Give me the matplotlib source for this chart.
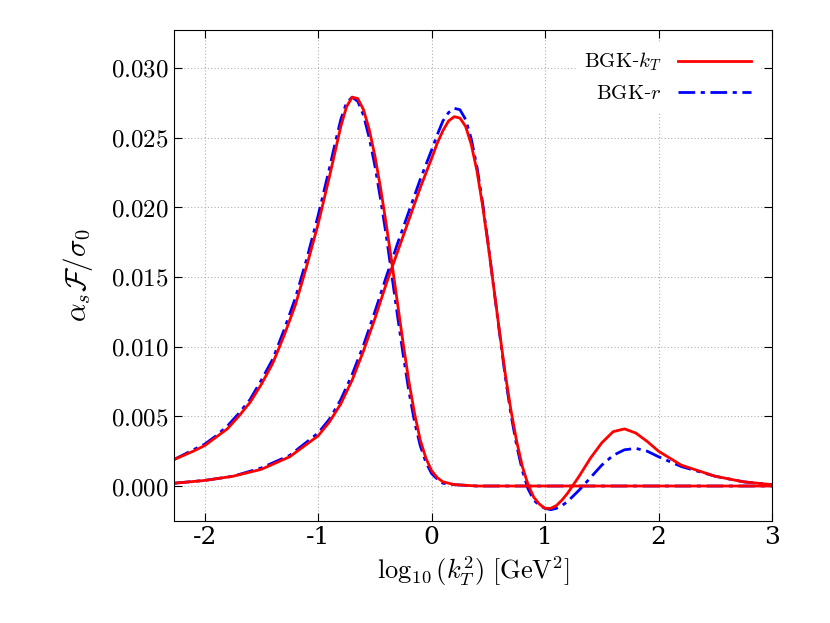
import matplotlib
matplotlib.use("Agg")
import matplotlib.pyplot as plt
from matplotlib.ticker import FuncFormatter
from matplotlib.lines import Line2D

plt.rcParams["mathtext.fontset"] = "cm"
plt.rcParams["font.family"] = "serif"
plt.rcParams["font.serif"] = ["DejaVu Serif"]

xa = [-2.27,-2.1,-2.0,-1.9,-1.8,-1.7,-1.6,-1.5,-1.4,-1.3,-1.2,-1.1,-1.0,-0.95,-0.9,-0.85,-0.8,-0.75,-0.7,-0.65,-0.6,-0.55,-0.5,-0.45,-0.4,-0.35,-0.3,-0.25,-0.2,-0.15,-0.1,-0.05,0.0,0.05,0.1,0.2,0.4,1.0,2.0,3.0]
ya_red = [0.0019,0.0025,0.0029,0.0035,0.0041,0.0050,0.0060,0.0073,0.0088,0.0108,0.0130,0.0158,0.0188,0.0205,0.0222,0.0240,0.0258,0.0272,0.0279,0.0278,0.0270,0.0256,0.0237,0.0214,0.0188,0.0160,0.0131,0.0102,0.0075,0.0052,0.0033,0.0020,0.0011,0.0006,0.0003,0.0001,0,0,0,0]
ya_blue = [0.0019,0.0026,0.0030,0.0036,0.0043,0.0052,0.0062,0.0076,0.0091,0.0112,0.0135,0.0163,0.0194,0.0211,0.0228,0.0246,0.0263,0.0275,0.0279,0.0276,0.0266,0.0250,0.0230,0.0206,0.0180,0.0151,0.0122,0.0094,0.0068,0.0046,0.0029,0.0017,0.0009,0.0005,0.0002,0.0001,0,0,0,0]

xb = [-2.27,-2.0,-1.75,-1.5,-1.25,-1.0,-0.9,-0.8,-0.7,-0.6,-0.5,-0.4,-0.3,-0.2,-0.1,0.0,0.05,0.1,0.15,0.2,0.25,0.3,0.35,0.4,0.45,0.5,0.55,0.6,0.65,0.7,0.75,0.8,0.85,0.9,0.95,1.0,1.05,1.1,1.15,1.2,1.3,1.4,1.5,1.6,1.7,1.8,1.9,2.0,2.2,2.5,2.75,3.0]
yb_red = [0.0002,0.0004,0.0007,0.0012,0.0021,0.0036,0.0046,0.0059,0.0076,0.0097,0.0120,0.0145,0.0168,0.0191,0.0214,0.0235,0.0246,0.0255,0.0262,0.0265,0.0264,0.0258,0.0245,0.0226,0.0201,0.0172,0.0141,0.0110,0.0080,0.0054,0.0032,0.0014,0.0001,-0.0008,-0.0013,-0.0016,-0.0016,-0.0014,-0.0010,-0.0005,0.0007,0.0020,0.0031,0.0039,0.0041,0.0038,0.0032,0.0025,0.0015,0.0007,0.0003,0.0001]
yb_blue = [0.0002,0.0004,0.0007,0.0013,0.0022,0.0038,0.0048,0.0062,0.0080,0.0101,0.0125,0.0150,0.0174,0.0197,0.0220,0.0241,0.0252,0.0262,0.0268,0.0271,0.0270,0.0263,0.0249,0.0229,0.0203,0.0173,0.0141,0.0109,0.0078,0.0051,0.0029,0.0011,-0.0002,-0.0010,-0.0014,-0.0016,-0.0017,-0.0016,-0.0014,-0.0011,-0.0003,0.0006,0.0015,0.0022,0.0026,0.0027,0.0025,0.0021,0.0014,0.0007,0.0003,0.0001]

xticks = [-2, -1, 0, 1, 2, 3]
yticks = [0.000, 0.005, 0.010, 0.015, 0.020, 0.025, 0.030]

fig = plt.figure(figsize=(8.3, 6.23), dpi=100)
ax = fig.add_axes([174/830, 1-521/623, (772-174)/830, (521-30)/623])
red = "#ff0000"; blue = "#0000ff"
dash = (0, (6, 2, 1.5, 2))
ax.plot(xa, ya_blue, color=blue, lw=2, ls=dash)
ax.plot(xb, yb_blue, color=blue, lw=2, ls=dash)
ax.plot(xa, ya_red, color=red, lw=2)
ax.plot(xb, yb_red, color=red, lw=2)
ax.set_xlim(-2.27, 3)
ax.set_ylim(-0.00251, 0.03272)
ax.set_xticks(xticks); ax.set_yticks(yticks)
ax.xaxis.set_major_formatter(FuncFormatter(lambda v, p: f"${v:.0f}$".replace("-", "\\text{-}") if False else f"{v:.0f}"))
ax.yaxis.set_major_formatter(FuncFormatter(lambda v, p: f"${v:.3f}$"))
ax.tick_params(labelsize=18, direction="in", length=6, top=True, right=True)
for t in ax.get_xticklabels():
    t.set_fontfamily("serif")
ax.grid(True, color="#b0b0b0", ls=(0, (1, 2)), lw=0.8)
ax.set_xlabel(r"$\log_{10}(k_T^2)\ [\mathrm{GeV}^2]$", fontsize=19)
ax.set_ylabel(r"$\alpha_s\mathcal{F}/\sigma_0$", fontsize=21, labelpad=12)
h = [Line2D([], [], color=red, lw=2), Line2D([], [], color=blue, lw=2, ls=dash)]
ax.legend(h, [r"$\mathrm{BGK}$-$k_T$", r"$\mathrm{BGK}$-$r$"], loc="upper right", fontsize=15,
          frameon=True, fancybox=False, edgecolor="white", framealpha=1, handlelength=3.5,
          markerfirst=False, borderaxespad=0.6)
fig.savefig("out.png", dpi=100)
